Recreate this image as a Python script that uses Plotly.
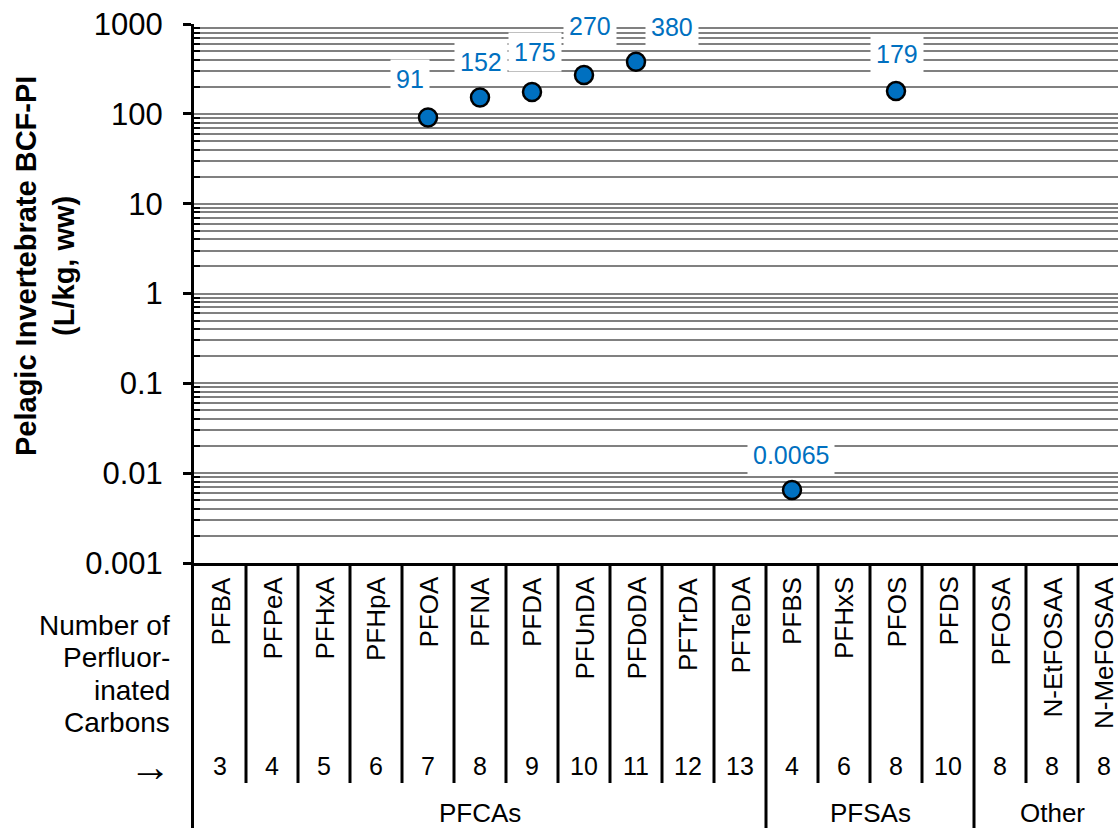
import math
import plotly.graph_objects as go

# ---------------- data ----------------
categories = ["PFBA", "PFPeA", "PFHxA", "PFHpA", "PFOA", "PFNA", "PFDA", "PFUnDA",
              "PFDoDA", "PFTrDA", "PFTeDA", "PFBS", "PFHxS", "PFOS", "PFDS",
              "PFOSA", "N-EtFOSAA", "N-MeFOSAA"]
carbons = ["3", "4", "5", "6", "7", "8", "9", "10", "11", "12", "13",
           "4", "6", "8", "10", "8", "8", "8"]
bcf_values = [None, None, None, None, 91, 152, 175, 270, 380, None, None,
              0.0065, None, 179, None, None, None, None]
bcf_labels = [None, None, None, None, "91", "152", "175", "270", "380", None, None,
              "0.0065", None, "179", None, None, None, None]
group_names = ["PFCAs", "PFSAs", "Other"]
group_sizes = [11, 4, 3]
y_tick_values = [0.001, 0.01, 0.1, 1, 10, 100, 1000]
y_tick_labels = ["0.001", "0.01", "0.1", "1", "10", "100", "1000"]
left_label_lines = ["Number of", "Perfluor-", "inated", "Carbons"]

# ---------------- layout constants ----------------
W, H = 1118, 828
L, T, PB = 194, 24, 563          # plot left, top, bottom (px)
PW, PH = W - L, PB - T
COL = 52                          # px per category
x_range = [-0.5, -0.5 + PW / COL]
FONT = "Arial, Liberation Sans, sans-serif"
BLUE = "#0070C0"
GRID = "#808080"

def py(p):
    return (PB - p) / PH

def px(p):
    return (p - L) / PW

# label offsets (px) relative to their point
label_offsets = {"PFOA": (-18, 39), "PFNA": (1, 36), "PFDA": (3, 40),
                 "PFUnDA": (6, 49), "PFDoDA": (36, 35), "PFOS": (1, 37),
                 "PFBS": (-1, 35)}

fig = go.Figure()
fig.add_trace(go.Scatter(
    x=categories, y=bcf_values, mode="markers",
    marker=dict(size=18, color=BLUE, line=dict(color="black", width=2.5)),
    cliponaxis=False, showlegend=False, hoverinfo="x+y"))

annotations = []
for cat, v, lab in zip(categories, bcf_values, bcf_labels):
    if v is None:
        continue
    dx, dy = label_offsets[cat]
    annotations.append(dict(
        x=cat, y=math.log10(v), xref="x", yref="y", text=lab, showarrow=False,
        xshift=dx, yshift=dy, font=dict(family=FONT, size=25, color=BLUE),
        bgcolor="white", borderpad=5, xanchor="center", yanchor="middle"))

# rotated category labels
for cat in categories:
    annotations.append(dict(
        x=cat, y=py(575), xref="x", yref="paper", text=cat, showarrow=False,
        textangle=-90, xanchor="center", yanchor="top",
        font=dict(family=FONT, size=26, color="black")))

# carbon numbers
for cat, n in zip(categories, carbons):
    annotations.append(dict(
        x=cat, y=py(766), xref="x", yref="paper", text=n, showarrow=False,
        xanchor="center", yanchor="middle",
        font=dict(family=FONT, size=25, color="black")))

# group labels
start = 0
for name, size in zip(group_names, group_sizes):
    center = start + (size - 1) / 2
    annotations.append(dict(
        x=center, y=py(813), xref="x", yref="paper", text=name, showarrow=False,
        xanchor="center", yanchor="middle",
        font=dict(family=FONT, size=26, color="black")))
    start += size

# left side label
for line, yc in zip(left_label_lines, [625, 657, 690, 722]):
    annotations.append(dict(
        x=px(172), y=py(yc), xref="paper", yref="paper", text=line,
        showarrow=False, xanchor="right", yanchor="middle",
        font=dict(family=FONT, size=28, color="black")))
annotations.append(dict(
    x=px(173), y=py(766), xref="paper", yref="paper", text="\u2192",
    showarrow=False, xanchor="right", yanchor="middle",
    font=dict(family=FONT, size=42, color="black")))

# y-axis title
annotations.append(dict(
    x=px(45), y=py(266), xref="paper", yref="paper",
    text="<b>Pelagic Invertebrate BCF-PI<br>(L/kg, ww)</b>", showarrow=False,
    textangle=-90, xanchor="center", yanchor="middle",
    font=dict(family=FONT, size=29, color="black")))

# table lines
shapes = []
shapes.append(dict(type="line", xref="paper", yref="paper",
                   x0=px(L - 1.5), x1=px(L - 1.5), y0=0, y1=py(H + 2),
                   line=dict(color="black", width=3)))
boundaries = []
acc = 0
for size in group_sizes[:-1]:
    acc += size
    boundaries.append(acc - 0.5)
for i in range(len(categories) - 1):
    b = i + 0.5
    bottom = H + 2 if b in boundaries else 783
    shapes.append(dict(type="line", xref="x", yref="paper",
                       x0=b, x1=b, y0=0, y1=py(bottom),
                       line=dict(color="black", width=3)))

minor_vals = [m * 10 ** e for e in range(-3, 3) for m in range(2, 10)]

fig.update_layout(
    width=W, height=H,
    margin=dict(l=L, r=0, t=T, b=H - PB, pad=0),
    paper_bgcolor="white", plot_bgcolor="white",
    font=dict(family=FONT, color="black"),
    showlegend=False,
    annotations=annotations, shapes=shapes,
    xaxis=dict(type="category", categoryorder="array", categoryarray=categories,
               range=x_range, showgrid=False, zeroline=False,
               showline=True, linecolor="black", linewidth=3,
               showticklabels=False, ticks=""),
    yaxis=dict(type="log", range=[-3, 3], tickmode="array",
               tickvals=y_tick_values, ticktext=y_tick_labels,
               tickfont=dict(family=FONT, size=31, color="black"),
               ticks="outside", ticklen=8, tickwidth=3, tickcolor="black",
               ticklabelstandoff=14,
               showline=True, linecolor="black", linewidth=3,
               showgrid=True, gridcolor=GRID, gridwidth=2, zeroline=False,
               minor=dict(tickmode="array", tickvals=minor_vals,
                          ticks="inside", ticklen=6, tickwidth=2,
                          tickcolor="black", showgrid=True,
                          gridcolor=GRID, gridwidth=2)),
)

fig.write_html("out.html",
               config={"displayModeBar": False},
               post_script="document.body.style.margin='0';"
                           "document.body.style.overflow='hidden';")
